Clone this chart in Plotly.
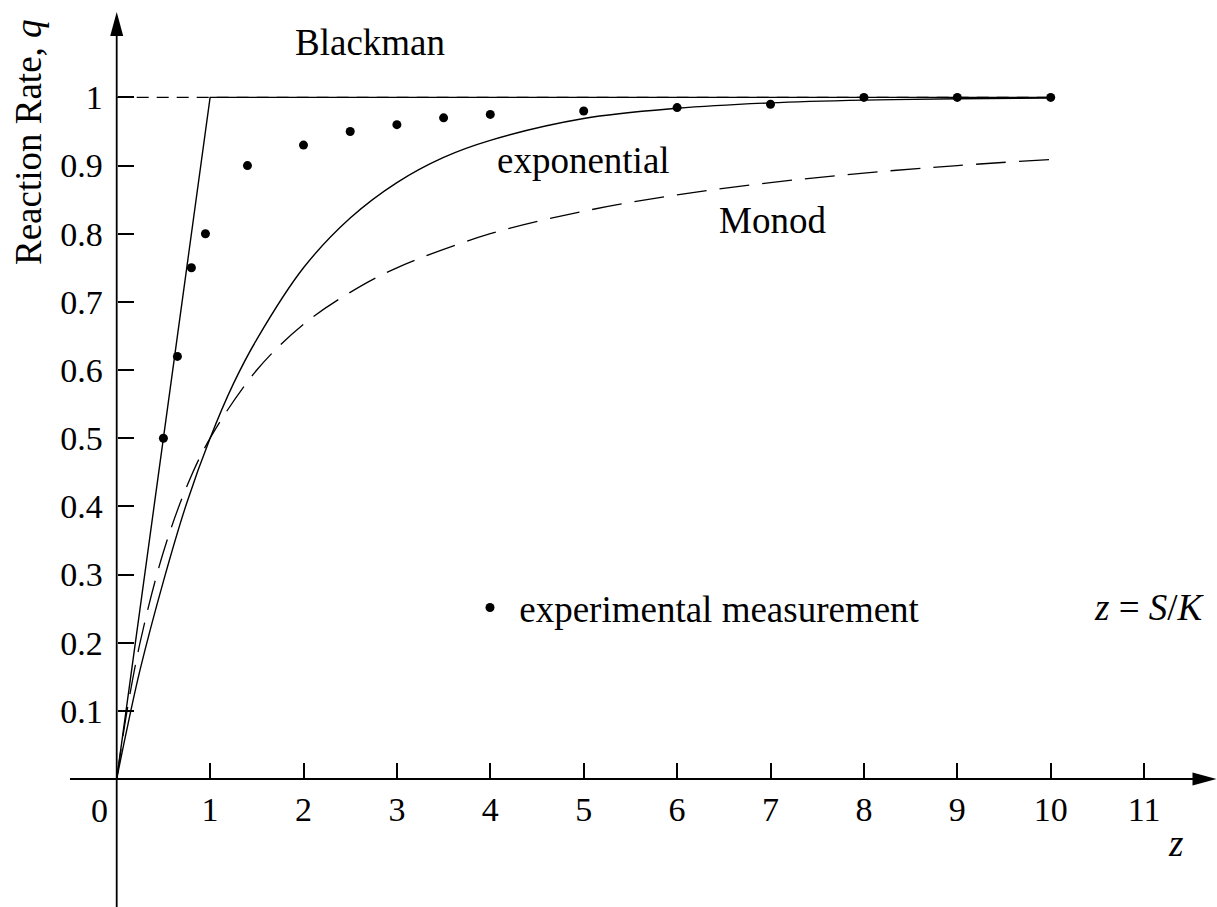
import plotly.graph_objects as go

# ---------------- data ----------------
meas_z = [0.5, 0.65, 0.8, 0.95, 1.4, 2.0, 2.5, 3.0, 3.5, 4.0, 5.0, 6.0, 7.0, 8.0, 9.0, 10.0]
meas_q = [0.50, 0.62, 0.75, 0.80, 0.90, 0.93, 0.95, 0.96, 0.97, 0.975, 0.98, 0.985, 0.99, 1.0, 1.0, 1.0]

exp_z = [0, 0.1, 0.25, 0.5, 0.75, 1.0, 1.25, 1.5, 2.0, 2.5, 3.0, 3.5, 4.0, 5.0, 6.0, 7.0, 8.0, 9.0, 10.0]
exp_q = [0, 0.067, 0.16, 0.29, 0.405, 0.5, 0.58, 0.645, 0.75, 0.823, 0.875, 0.912, 0.937, 0.969, 0.984, 0.992, 0.996, 0.998, 0.999]

monod_z = [0, 0.1, 0.25, 0.5, 0.75, 1.0, 1.5, 2.0, 2.5, 3.0, 4.0, 5.0, 6.0, 7.0, 8.0, 9.0, 10.0]
monod_q = [0, 0.091, 0.2, 0.333, 0.429, 0.5, 0.6, 0.667, 0.714, 0.75, 0.8, 0.833, 0.857, 0.875, 0.889, 0.9, 0.909]

black_z = [0, 1, 10]
black_q = [0, 1, 1]

max_z = [0, 10]
max_q = [1, 1]

x_ticks = [1, 2, 3, 4, 5, 6, 7, 8, 9, 10, 11]
x_ticktext = ["1", "2", "3", "4", "5", "6", "7", "8", "9", "10", "11"]
y_ticks = [0.1, 0.2, 0.3, 0.4, 0.5, 0.6, 0.7, 0.8, 0.9, 1.0]
y_ticktext = ["0.1", "0.2", "0.3", "0.4", "0.5", "0.6", "0.7", "0.8", "0.9", "1"]

# ---------------- geometry ----------------
W, H = 1217, 907
X0P, XS = 116.7, 93.4      # pixel of z=0, pixels per unit z
Y0P, YS = 779.0, 681.6     # pixel of q=0, pixels per unit q
xmin, xmax = -X0P / XS, (W - X0P) / XS
ymin, ymax = (Y0P - H) / YS, Y0P / YS


def px(p):
    return (p - X0P) / XS


def py(p):
    return (Y0P - p) / YS


FONT = "Liberation Serif"
FS = 34      # tick labels
FT = 37      # words
BLACK = "#000000"

fig = go.Figure()

fig.add_trace(go.Scatter(x=max_z, y=max_q, mode="lines",
                         line=dict(color=BLACK, width=1.2, dash="12px,8px"),
                         showlegend=False, hoverinfo="skip"))
fig.add_trace(go.Scatter(x=black_z, y=black_q, mode="lines",
                         line=dict(color=BLACK, width=1.4),
                         showlegend=False))
fig.add_trace(go.Scatter(x=exp_z, y=exp_q, mode="lines",
                         line=dict(color=BLACK, width=1.4, shape="spline", smoothing=1.0),
                         showlegend=False))
fig.add_trace(go.Scatter(x=monod_z, y=monod_q, mode="lines",
                         line=dict(color=BLACK, width=1.3, shape="spline", smoothing=1.0,
                                   dash="30px,13px"),
                         showlegend=False))
fig.add_trace(go.Scatter(x=meas_z, y=meas_q, mode="markers",
                         marker=dict(color=BLACK, size=9, symbol="circle"),
                         name="&nbsp;experimental measurement", showlegend=True))

# axis lines
fig.add_shape(type="line", xref="x", yref="y", x0=px(70), x1=px(1194), y0=0, y1=0,
              line=dict(color=BLACK, width=1.8))
fig.add_shape(type="line", xref="x", yref="y", x0=0, x1=0, y0=ymin, y1=py(34),
              line=dict(color=BLACK, width=1.8))
# arrow heads
fig.add_shape(type="path", xref="x", yref="y", xsizemode="pixel", ysizemode="pixel",
              xanchor=px(1216.5), yanchor=0,
              path="M 0 0 L -24 6.5 L -24 -6.5 Z", fillcolor=BLACK, line=dict(width=0))
fig.add_shape(type="path", xref="x", yref="y", xsizemode="pixel", ysizemode="pixel",
              xanchor=0, yanchor=py(12),
              path="M 0 0 L -6.5 -24 L 6.5 -24 Z", fillcolor=BLACK, line=dict(width=0))

x_pos = (0 - ymin) / (ymax - ymin)
y_pos = (0 - xmin) / (xmax - xmin)

fig.update_layout(
    width=W, height=H, autosize=False,
    margin=dict(l=0, r=0, t=0, b=0, pad=0),
    paper_bgcolor="white", plot_bgcolor="white",
    font=dict(family=FONT, size=FS, color=BLACK),
    xaxis=dict(range=[xmin, xmax], showgrid=False, zeroline=False, showline=False,
               anchor="free", position=x_pos, side="bottom",
               tickmode="array", tickvals=x_ticks, ticktext=x_ticktext,
               ticks="inside", ticklen=16, tickwidth=1.5, tickcolor=BLACK,
               ticklabelstandoff=7, automargin=False,
               tickfont=dict(family=FONT, size=FS, color=BLACK)),
    yaxis=dict(range=[ymin, ymax], showgrid=False, zeroline=False, showline=False,
               anchor="free", position=y_pos, side="left",
               tickmode="array", tickvals=y_ticks, ticktext=y_ticktext,
               ticks="inside", ticklen=16, tickwidth=1.5, tickcolor=BLACK,
               ticklabelstandoff=14, automargin=False,
               tickfont=dict(family=FONT, size=FS, color=BLACK)),
    legend=dict(x=470 / W, y=1 - 608 / H, xanchor="left", yanchor="middle",
                bgcolor="rgba(0,0,0,0)", borderwidth=0,
                font=dict(family=FONT, size=FT, color=BLACK)),
)

ann = [
    dict(text="Blackman", x=px(293), y=py(42), xanchor="left", yanchor="middle", size=FT),
    dict(text="exponential", x=px(495), y=py(160), xanchor="left", yanchor="middle", size=FT),
    dict(text="Monod", x=px(717), y=py(220), xanchor="left", yanchor="middle", size=FT),
    dict(text="<i>z</i> = <i>S</i>/<i>K</i>", x=px(1207), y=py(607), xanchor="right",
         yanchor="middle", size=FT),
    dict(text="<i>z</i>", x=px(1175), y=py(843), xanchor="center", yanchor="middle", size=FT),
    dict(text="0", x=px(99), y=py(810), xanchor="center", yanchor="middle", size=FS),
    dict(text="Reaction Rate, <i>q</i>", x=px(28), y=py(142), xanchor="center", yanchor="middle",
         textangle=-90, size=FT),
]
for a in ann:
    s = a.pop("size")
    fig.add_annotation(xref="x", yref="y", showarrow=False,
                       font=dict(family=FONT, size=s, color=BLACK), **a)

fig.write_html("out.html")
